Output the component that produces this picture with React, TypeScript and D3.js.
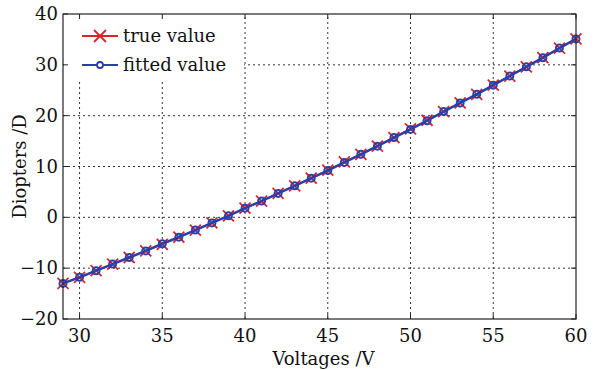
import React from 'react';
import * as d3 from 'd3';

// Voltages (V) and diopters
const voltages = [29, 30, 31, 32, 33, 34, 35, 36, 37, 38, 39, 40, 41, 42, 43, 44, 45, 46, 47, 48, 49, 50, 51, 52, 53, 54, 55, 56, 57, 58, 59, 60];
const trueValues = [-13.0, -11.8, -10.5, -9.2, -7.9, -6.6, -5.3, -3.9, -2.5, -1.1, 0.3, 1.8, 3.2, 4.7, 6.2, 7.7, 9.3, 10.9, 12.4, 14.0, 15.7, 17.4, 19.1, 20.8, 22.5, 24.2, 26.0, 27.8, 29.6, 31.4, 33.3, 35.1];
const fittedValues = [-13.0, -11.8, -10.5, -9.2, -7.9, -6.6, -5.2, -3.9, -2.5, -1.1, 0.3, 1.8, 3.2, 4.7, 6.2, 7.7, 9.2, 10.8, 12.4, 14.0, 15.7, 17.3, 19.0, 20.8, 22.5, 24.2, 26.0, 27.8, 29.6, 31.4, 33.3, 35.1];
const xTicks = [30, 35, 40, 45, 50, 55, 60];
const yTicks = [-20, -10, 0, 10, 20, 30, 40];
const legendLabels = ['true value', 'fitted value'];

const W = 600;
const H = 370;
const M = { left: 63, right: 24, top: 14, bottom: 51 };
const RED = '#d8232a';
const BLUE = '#2a3fa8';
const FONT = '"DejaVu Serif", "Liberation Serif", serif';

export default function App() {
  const x = d3.scaleLinear().domain([29, 60]).range([M.left, W - M.right]);
  const y = d3.scaleLinear().domain([-20, 40]).range([H - M.bottom, M.top]);

  const line = d3.line<number>()
    .x((_, i) => x(voltages[i]))
    .y(d => y(d));

  const x0 = x.range()[0], x1 = x.range()[1];
  const y0 = y.range()[0], y1 = y.range()[1];
  const tl = 5; // tick length

  const fmt = (v: number) => (v < 0 ? '\u2212' + Math.abs(v) : String(v));

  return (
    <svg width={W} height={H} style={{ position: 'absolute', left: 0, top: 0, background: '#fff' }}>
      {/* grid */}
      <g stroke="#333" strokeWidth={1} strokeDasharray="2,3">
        {xTicks.filter(t => t !== 60).map(t => (
          <line key={'gx' + t} x1={x(t)} x2={x(t)} y1={y0} y2={y1} />
        ))}
        {yTicks.filter(t => t !== -20 && t !== 40).map(t => (
          <line key={'gy' + t} x1={x0} x2={x1} y1={y(t)} y2={y(t)} />
        ))}
      </g>

      {/* legend background */}
      <rect x={x0 + 1} y={y1 + 1} width={180} height={67} fill="#fff" />

      {/* true value */}
      <path d={line(trueValues) || ''} fill="none" stroke={RED} strokeWidth={1.5} />
      <g stroke={RED} strokeWidth={1.8}>
        {trueValues.map((v, i) => {
          const cx = x(voltages[i]), cy = y(v), s = 5.5;
          return (
            <g key={'t' + i}>
              <line x1={cx - s} y1={cy - s} x2={cx + s} y2={cy + s} />
              <line x1={cx - s} y1={cy + s} x2={cx + s} y2={cy - s} />
            </g>
          );
        })}
      </g>

      {/* fitted value */}
      <path d={line(fittedValues) || ''} fill="none" stroke={BLUE} strokeWidth={2.5} />
      <g stroke={BLUE} strokeWidth={2} fill="none">
        {fittedValues.map((v, i) => (
          <circle key={'f' + i} cx={x(voltages[i])} cy={y(v)} r={3.5} />
        ))}
      </g>

      {/* axes box and ticks */}
      <rect x={x0} y={y1} width={x1 - x0} height={y0 - y1} fill="none" stroke="#222" strokeWidth={1.2} />
      <g stroke="#222" strokeWidth={1}>
        {xTicks.map(t => (
          <g key={'tx' + t}>
            <line x1={x(t)} x2={x(t)} y1={y0} y2={y0 - tl} />
            <line x1={x(t)} x2={x(t)} y1={y1} y2={y1 + tl} />
          </g>
        ))}
        {yTicks.map(t => (
          <g key={'ty' + t}>
            <line x1={x0} x2={x0 + tl} y1={y(t)} y2={y(t)} />
            <line x1={x1} x2={x1 - tl} y1={y(t)} y2={y(t)} />
          </g>
        ))}
      </g>

      <g fontFamily={FONT} fontSize={18} fill="#111">
        {xTicks.map(t => (
          <text key={'lx' + t} x={x(t)} y={y0 + 23} textAnchor="middle">{fmt(t)}</text>
        ))}
        {yTicks.map(t => (
          <text key={'ly' + t} x={x0 - 5} y={y(t) + 6} textAnchor="end">{fmt(t)}</text>
        ))}
        <text x={(x0 + x1) / 2 + 4} y={H - 5} textAnchor="middle">Voltages /V</text>
        <text transform={`translate(26,${(y0 + y1) / 2}) rotate(-90)`} textAnchor="middle">Diopters /D</text>
      </g>

      {/* legend */}
      <g fontFamily={FONT} fontSize={18} fill="#111">
        <line x1={82} x2={118} y1={36} y2={36} stroke={RED} strokeWidth={1.8} />
        <line x1={94} y1={30} x2={106} y2={42} stroke={RED} strokeWidth={1.8} />
        <line x1={94} y1={42} x2={106} y2={30} stroke={RED} strokeWidth={1.8} />
        <text x={123} y={42}>{legendLabels[0]}</text>
        <line x1={82} x2={118} y1={65} y2={65} stroke={BLUE} strokeWidth={2.2} />
        <circle cx={100} cy={65} r={3} stroke={BLUE} strokeWidth={1.8} fill="#fff" />
        <text x={123} y={71}>{legendLabels[1]}</text>
      </g>
    </svg>
  );
}
